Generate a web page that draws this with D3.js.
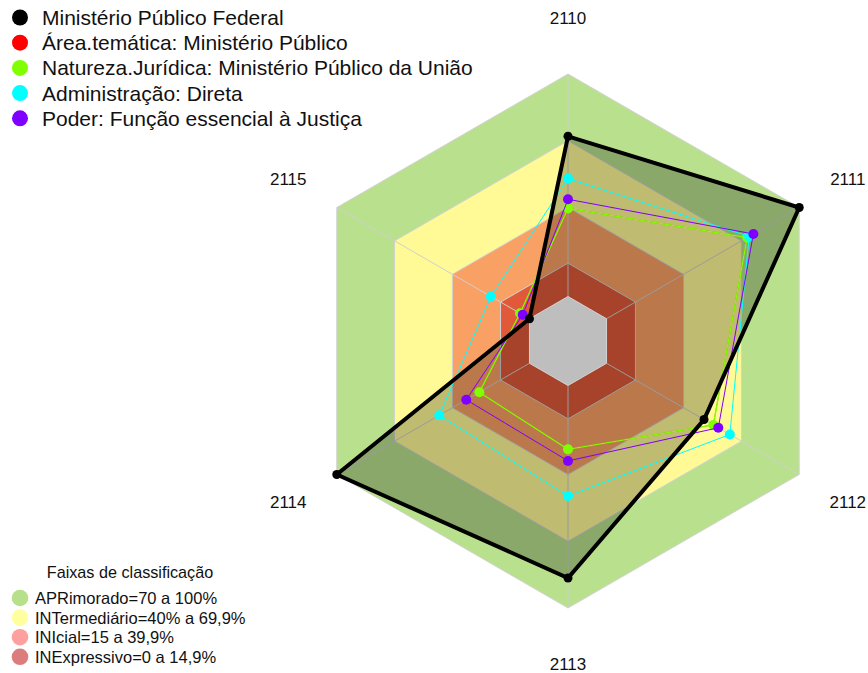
<!DOCTYPE html>
<html>
<head>
<meta charset="utf-8">
<script src="https://cdn.jsdelivr.net/npm/d3@7"></script>
<style>
  body { margin: 0; background: #fff; }
  text { font-family: "Liberation Sans", Arial, sans-serif; fill: #111; }
</style>
</head>
<body>
<div id="chart"></div>
<script>
// axes (clockwise from the top)
let axes = ["2110", "2111", "2112", "2113", "2114", "2115"];

let seriesNames = [
  "Ministério Público Federal",
  "Área.temática: Ministério Público",
  "Natureza.Jurídica: Ministério Público da União",
  "Administração: Direta",
  "Poder: Função essencial à Justiça",
];
let seriesColors = ["#000000", "#ff0000", "#7fff00", "#00ffff", "#8000ff"];

let mpf = [72, 100, 50.6, 86.5, 100, 0];
let areaTematica = [39.6, 73, 55.4, 28.7, 26, 4.9];
let naturezaJuridica = [39.6, 73, 55.4, 28.7, 26, 4.9];
let administracao = [53, 74, 64, 49.7, 46.8, 20];
let poder = [43.7, 76.2, 58, 33.9, 32.8, 3.5];

// classification bands (upper limit of each band)
let bandNames = [
  "APRimorado=70 a 100%",
  "INTermediário=40% a 69,9%",
  "INIcial=15 a 39,9%",
  "INExpressivo=0 a 14,9%",
];
let bandLimits = [100, 70, 40, 15];
let bandFill = ["#b9e08d", "#fffa96", "#f9a065", "#e05a3a"];
let bandLegendColors = ["#b7e08a", "#ffffa0", "#ffa0a0", "#dc7c7c"];

var w = 868,
  h = 673;
var cx = 568,
  cy = 341,
  R = 267;

var svg = d3
  .select("#chart")
  .append("svg")
  .attr("width", w)
  .attr("height", h);

// fmsb style: value 0 sits at 1/6 of the radius
var rScale = d3.scaleLinear().domain([0, 100]).range([R / 6, R]);
var angle = (i) => (i * 2 * Math.PI) / axes.length;

var radial = d3
  .lineRadial()
  .angle((d, i) => angle(i))
  .radius((d) => rScale(d))
  .curve(d3.curveLinearClosed);

var g = svg.append("g").attr("transform", `translate(${cx},${cy})`);

// bands
bandLimits.forEach(function (lim, k) {
  g.append("path")
    .attr("d", radial(axes.map(() => lim)))
    .attr("fill", bandFill[k])
    .attr("stroke", "#d3d3d3")
    .attr("stroke-width", 1);
});

// axis spokes
g.selectAll(".spoke")
  .data(axes)
  .enter()
  .append("line")
  .attr("class", "spoke")
  .attr("x1", (d, i) => rScale(0) * Math.sin(angle(i)))
  .attr("y1", (d, i) => -rScale(0) * Math.cos(angle(i)))
  .attr("x2", (d, i) => rScale(100) * Math.sin(angle(i)))
  .attr("y2", (d, i) => -rScale(100) * Math.cos(angle(i)))
  .attr("stroke", "#cfcfcf")
  .attr("stroke-width", 1);

// axis labels
g.selectAll(".axlab")
  .data(axes)
  .enter()
  .append("text")
  .attr("class", "axlab")
  .attr("x", (d, i) => 1.21 * R * Math.sin(angle(i)))
  .attr("y", (d, i) => -1.21 * R * Math.cos(angle(i)))
  .attr("dy", "0.35em")
  .attr("text-anchor", "middle")
  .style("font-size", "17px")
  .text((d) => d);

var allSeries = [mpf, areaTematica, naturezaJuridica, administracao, poder];

// fill of the main series
g.append("path")
  .attr("d", radial(mpf))
  .attr("fill", "rgba(0,0,0,0.25)")
  .attr("stroke", "none");

// grey centre (below value 0)
g.append("path")
  .attr("d", radial(axes.map(() => 0)))
  .attr("fill", "#bebebe")
  .attr("stroke", "#d3d3d3")
  .attr("stroke-width", 1);

function pointXY(v, i) {
  return [rScale(v) * Math.sin(angle(i)), -rScale(v) * Math.cos(angle(i))];
}

var lineWidth = [4, 0.5, 1.3, 1, 1];
var pointR = [4.5, 4, 5, 5, 5];

// thin series, then the main one on top
[1, 2, 3, 4, 0].forEach(function (s) {
  var vals = allSeries[s];
  g.append("path")
    .attr("d", radial(vals))
    .attr("fill", "none")
    .attr("stroke", seriesColors[s])
    .attr("stroke-width", lineWidth[s]);
  g.selectAll(".pt" + s)
    .data(vals)
    .enter()
    .append("circle")
    .attr("class", "pt" + s)
    .attr("cx", (d, i) => pointXY(d, i)[0])
    .attr("cy", (d, i) => pointXY(d, i)[1])
    .attr("r", pointR[s])
    .attr("fill", seriesColors[s]);
});

// series legend
let legend = svg.append("g").attr("id", "legend");
legend
  .selectAll("circle")
  .data(seriesNames)
  .enter()
  .append("circle")
  .attr("cx", 20)
  .attr("cy", (d, i) => 17.5 + i * 25.2)
  .attr("r", 8)
  .attr("fill", (d, i) => seriesColors[i]);
legend
  .selectAll("text")
  .data(seriesNames)
  .enter()
  .append("text")
  .attr("x", 42)
  .attr("y", (d, i) => 17.5 + i * 25.2)
  .attr("dy", "0.36em")
  .style("font-size", "21px")
  .text((d) => d);

// band legend
let bandLegend = svg.append("g").attr("id", "band-legend");
bandLegend
  .append("text")
  .attr("x", 130)
  .attr("y", 572)
  .attr("dy", "0.35em")
  .attr("text-anchor", "middle")
  .style("font-size", "16.2px")
  .text("Faixas de classificação");
bandLegend
  .selectAll("circle")
  .data(bandNames)
  .enter()
  .append("circle")
  .attr("cx", 20)
  .attr("cy", (d, i) => 598 + i * 19.6)
  .attr("r", 8.3)
  .attr("fill", (d, i) => bandLegendColors[i]);
bandLegend
  .selectAll(".blab")
  .data(bandNames)
  .enter()
  .append("text")
  .attr("class", "blab")
  .attr("x", 35)
  .attr("y", (d, i) => 598 + i * 19.6)
  .attr("dy", "0.36em")
  .style("font-size", "16.5px")
  .text((d) => d);
</script>
</body>
</html>
